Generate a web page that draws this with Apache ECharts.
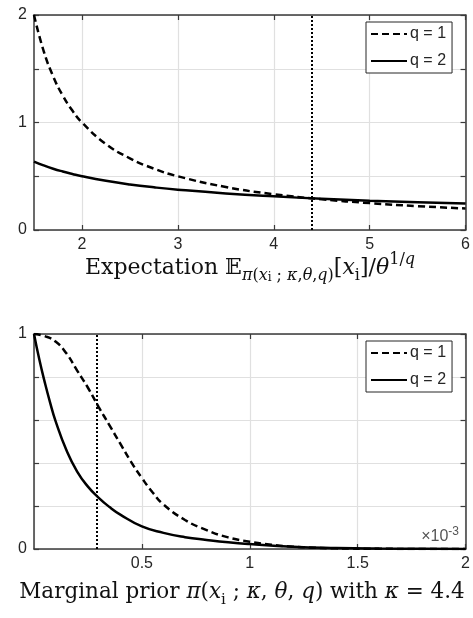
<!DOCTYPE html>
<html>
<head>
<meta charset="utf-8">
<script src="https://cdn.jsdelivr.net/npm/echarts@6/dist/echarts.min.js"></script>
<style>
  html, body { margin: 0; padding: 0; background: #fff; }
  #chart { width: 473px; height: 618px; }
</style>
</head>
<body>
<div id="chart"></div>
<script>
// top panel: expectation vs kappa
var expKappa = [1.5, 1.6, 1.7, 1.8, 1.9, 2.0, 2.25, 2.5, 2.75, 3.0, 3.5, 4.0, 4.5, 5.0, 5.5, 6.0];
var expQ1 = [2.0, 1.667, 1.429, 1.25, 1.111, 1.0, 0.8, 0.667, 0.571, 0.5, 0.4, 0.333, 0.286, 0.25, 0.222, 0.2];
var expQ2 = [0.637, 0.601, 0.570, 0.544, 0.521, 0.5, 0.458, 0.424, 0.397, 0.375, 0.340, 0.313, 0.291, 0.273, 0.259, 0.246];
var kappaMark = 4.4;
var topXTicks = [2, 3, 4, 5, 6];

// bottom panel: marginal prior (x in units of 1e-3)
var priorX1 = [0, 0.05, 0.1, 0.15, 0.2, 0.25, 0.3, 0.35, 0.4, 0.45, 0.5, 0.55, 0.6, 0.7, 0.8, 0.9, 1.0, 1.1, 1.2, 1.3, 1.4, 1.6, 1.8, 2.0];
var priorQ1 = [1.0, 0.99, 0.965, 0.91, 0.83, 0.75, 0.66, 0.575, 0.49, 0.405, 0.33, 0.263, 0.207, 0.135, 0.088, 0.054, 0.034, 0.02, 0.011, 0.006, 0.003, 0.001, 0.0003, 0.0001];
var priorX2 = [0, 0.025, 0.05, 0.075, 0.1, 0.15, 0.2, 0.25, 0.3, 0.35, 0.4, 0.5, 0.6, 0.7, 0.8, 0.9, 1.0, 1.2, 1.4, 1.6, 1.8, 2.0];
var priorQ2 = [1.0, 0.88, 0.775, 0.68, 0.595, 0.46, 0.36, 0.29, 0.238, 0.195, 0.16, 0.105, 0.075, 0.055, 0.042, 0.031, 0.023, 0.011, 0.005, 0.002, 0.001, 0.0005];
var xMark = 0.294;

var names = ['q = 1', 'q = 2'];

function zip(xs, ys) {
    return xs.map(function (x, i) { return [x, ys[i]]; });
}

var axisColor = '#3a3a3a';
var labelColor = '#262626';
var gridColor = '#e0e0e0';
var sans = 'Liberation Sans, Arial, sans-serif';
var serif = 'DejaVu Serif, serif';

function xAxisMain(grid, min, max, interval, custom) {
    var ax = {
        gridIndex: grid, type: 'value', min: min, max: max, interval: interval,
        axisLine: { show: true, onZero: false, lineStyle: { color: axisColor, width: 1.5 } },
        axisTick: { inside: true, length: 5, lineStyle: { color: axisColor, width: 1.2 } },
        axisLabel: { color: labelColor, fontSize: 16, fontFamily: sans, margin: 7, showMinLabel: !!custom },
        splitLine: { show: true, lineStyle: { color: gridColor, width: 1.2 } }
    };
    if (custom) {
        ax.axisTick.customValues = custom;
        ax.axisLabel.customValues = custom;
        ax.splitLine.customValues = custom;
    }
    return ax;
}
function xAxisTop(grid, min, max, interval, custom) {
    var ax = {
        gridIndex: grid, type: 'value', position: 'top', min: min, max: max, interval: interval,
        axisLine: { show: true, onZero: false, lineStyle: { color: axisColor, width: 1.5 } },
        axisTick: { inside: true, length: 5, lineStyle: { color: axisColor, width: 1.2 } },
        axisLabel: { show: false },
        splitLine: { show: false }
    };
    if (custom) ax.axisTick.customValues = custom;
    return ax;
}
function yAxisMain(grid, min, max, interval) {
    return {
        gridIndex: grid, type: 'value', min: min, max: max, interval: interval,
        axisLine: { show: true, onZero: false, lineStyle: { color: axisColor, width: 1.5 } },
        axisTick: { show: true, inside: true, length: 5, lineStyle: { color: axisColor, width: 1.2 } },
        axisLabel: {
            color: labelColor, fontSize: 16, fontFamily: sans, margin: 7,
            formatter: function (v) { return Math.abs(v - Math.round(v)) < 1e-9 ? String(Math.round(v)) : ''; }
        },
        splitLine: { show: true, lineStyle: { color: gridColor, width: 1.2 } }
    };
}
function yAxisRight(grid, min, max, interval) {
    return {
        gridIndex: grid, type: 'value', position: 'right', min: min, max: max, interval: interval,
        axisLine: { show: true, onZero: false, lineStyle: { color: axisColor, width: 1.5 } },
        axisTick: { show: true, inside: true, length: 5, lineStyle: { color: axisColor, width: 1.2 } },
        axisLabel: { show: false },
        splitLine: { show: false }
    };
}

function curve(name, xi, yi, data, dashed, mark) {
    var s = {
        name: name, type: 'line', xAxisIndex: xi, yAxisIndex: yi,
        data: data, symbol: 'none', smooth: true,
        lineStyle: { color: '#000', width: 2.5, type: dashed ? [7, 4] : 'solid' },
        itemStyle: { color: '#000' },
        z: 3
    };
    if (mark !== undefined) {
        s.markLine = {
            silent: true, symbol: 'none', label: { show: false },
            lineStyle: { color: '#000', width: 2, type: [2, 2] },
            data: [{ xAxis: mark }]
        };
    }
    return s;
}

function legendAt(top) {
    return {
        data: names, orient: 'vertical', left: 366, top: top,
        itemWidth: 36, itemHeight: 14, itemGap: 11,
        padding: [4, 6, 4, 4],
        borderColor: '#262626', borderWidth: 1, backgroundColor: '#fff',
        itemStyle: { opacity: 0 },
        textStyle: { color: labelColor, fontSize: 16, fontFamily: sans, padding: [0, 0, 0, -2] },
        selectedMode: false
    };
}

var chart = echarts.init(document.getElementById('chart'));
chart.setOption({
    animation: false,
    backgroundColor: '#fff',
    grid: [
        { left: 34, top: 15, width: 432, height: 215 },
        { left: 34, top: 334, width: 432, height: 215 }
    ],
    xAxis: [
        xAxisMain(0, 1.5, 6, 0.5, topXTicks),
        xAxisTop(0, 1.5, 6, 0.5, topXTicks),
        xAxisMain(1, 0, 2, 0.5),
        xAxisTop(1, 0, 2, 0.5)
    ],
    yAxis: [
        yAxisMain(0, 0, 2, 0.5),
        yAxisRight(0, 0, 2, 0.5),
        yAxisMain(1, 0, 1, 0.2),
        yAxisRight(1, 0, 1, 0.2)
    ],
    legend: [legendAt(22), legendAt(341)],
    series: [
        curve(names[0], 0, 0, zip(expKappa, expQ1), true, kappaMark),
        curve(names[1], 0, 0, zip(expKappa, expQ2), false),
        curve(names[0], 2, 2, zip(priorX1, priorQ1), true, xMark),
        curve(names[1], 2, 2, zip(priorX2, priorQ2), false)
    ],
    graphic: [
        {
            type: 'text', x: 250, y: 268, z: 10,
            style: {
                align: 'center', verticalAlign: 'middle',
                text: '{r|Expectation }{r|𝔼}{si|π}{s|(}{si|x}{ss|i}{s| ; }{si|κ}{s|,}{si|θ}{s|,}{si|q}{s|)}{r|[}{i|x}{sub|i}{r|]/}{i|θ}{sup|1/}{supi|q}',
                rich: {
                    r: { fontFamily: serif, fontSize: 22, lineHeight: 32, fill: '#111' },
                    i: { fontFamily: serif, fontSize: 22, lineHeight: 32, fontStyle: 'italic', fill: '#111' },
                    s: { fontFamily: serif, fontSize: 16, lineHeight: 14, verticalAlign: 'bottom', fill: '#111' },
                    si: { fontFamily: serif, fontSize: 16, lineHeight: 14, verticalAlign: 'bottom', fontStyle: 'italic', fill: '#111' },
                    ss: { fontFamily: serif, fontSize: 12, lineHeight: 6, verticalAlign: 'bottom', fill: '#111' },
                    sub: { fontFamily: serif, fontSize: 16, lineHeight: 18, verticalAlign: 'bottom', fill: '#111' },
                    sup: { fontFamily: serif, fontSize: 16, lineHeight: 12, verticalAlign: 'top', fill: '#111' },
                    supi: { fontFamily: serif, fontSize: 16, lineHeight: 12, verticalAlign: 'top', fontStyle: 'italic', fill: '#111' }
                }
            }
        },
        {
            type: 'text', x: 242, y: 592, z: 10,
            style: {
                align: 'center', verticalAlign: 'middle',
                text: '{r|Marginal prior }{i|π}{r|(}{i|x}{sub|i}{r| ; }{i|κ}{r|, }{i|θ}{r|, }{i|q}{r|) with }{i|κ}{r| = 4.4}',
                rich: {
                    r: { fontFamily: serif, fontSize: 21.5, lineHeight: 32, fill: '#111' },
                    i: { fontFamily: serif, fontSize: 21.5, lineHeight: 32, fontStyle: 'italic', fill: '#111' },
                    sub: { fontFamily: serif, fontSize: 15, lineHeight: 18, verticalAlign: 'bottom', fill: '#111' }
                }
            }
        },
        {
            type: 'text', x: 459, y: 537, z: 10,
            style: {
                align: 'right', verticalAlign: 'middle',
                text: '{r|×10}{sup|-3}',
                rich: {
                    r: { fontFamily: sans, fontSize: 16, lineHeight: 22, fill: '#555' },
                    sup: { fontFamily: sans, fontSize: 12, lineHeight: 10, verticalAlign: 'top', fill: '#555' }
                }
            }
        }
    ]
});
</script>
</body>
</html>
